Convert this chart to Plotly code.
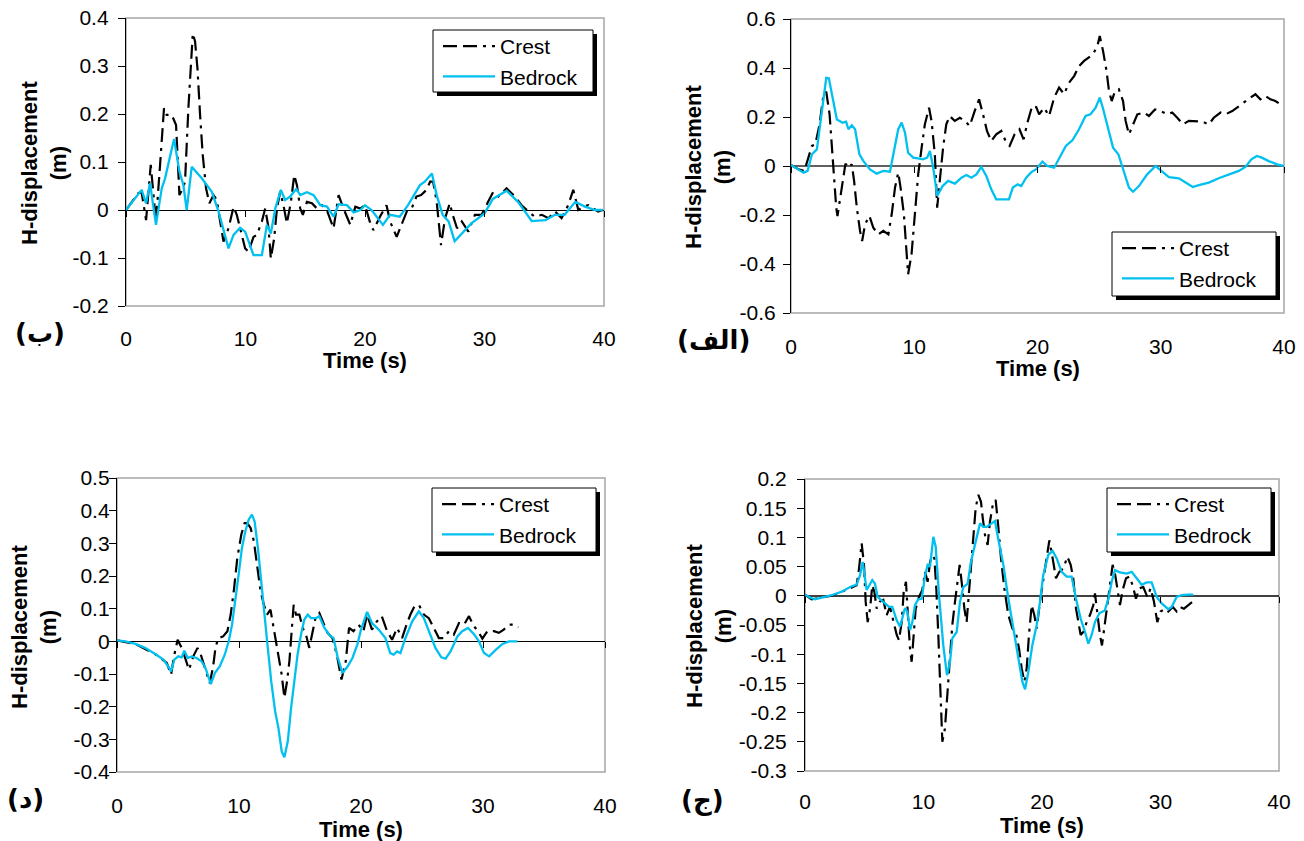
import plotly.graph_objects as go

# ---------------- data (time s, H-displacement m) ----------------
TIME_TICKS = [0, 10, 20, 30, 40]
TIME_LABELS = ["0", "10", "20", "30", "40"]
SERIES = ["Crest", "Bedrock"]
PANEL_TAGS = ["(ب)", "(الف)", "(د)", "(ج)"]

# panel (ب) top-left
p1_crest = [(0,0),(1.03,0.035),(1.3,0.038),(1.68,-0.021),(2.07,0.094),(2.51,-0.024),(2.85,0.094),(3.18,0.212),
            (3.4,0.198),(3.83,0.198),(4.19,0.177),(4.47,0.031),(4.75,0.045),(4.94,0.059),(5.22,0.212),(5.59,0.368),
            (5.78,0.351),(5.98,0.295),(6.2,0.198),(6.42,0.115),(6.7,0.045),(6.98,0.014),(7.32,0.031),(7.6,0.021),
            (7.88,-0.024),(8.16,-0.066),(8.58,-0.038),(9.0,0.007),(9.27,-0.010),(9.55,-0.038),(9.97,-0.080),
            (10.25,-0.087),(10.67,-0.056),(10.95,-0.052),(11.37,-0.024),(11.65,0.003),(11.93,-0.038),(12.12,-0.101),
            (12.4,-0.059),(12.63,0.003),(12.9,0.038),(13.18,0.010),(13.46,-0.028),(13.8,0.017),(14.08,0.073),
            (14.3,0.052),(14.58,0.003),(14.8,-0.010),(15.14,0.017),(15.56,0.014),(15.98,0.003),(16.4,0.010),
            (16.8,0),(17.37,-0.038),(17.79,0.031),(18.2,0.003),(18.77,-0.031),(19.19,0.007),(19.6,0.003),
            (20.0,0.010),(20.4,-0.024),(20.7,-0.042),(21.25,-0.014),(21.8,0.010),(22.1,-0.024),(22.65,-0.056),
            (23.07,-0.031),(23.5,-0.003),(23.9,0.003),(24.3,0.028),(24.7,0.031),(25.15,0.042),(25.45,0.059),
            (25.7,0.059),(26.0,0.017),(26.2,-0.038),(26.36,-0.073),(26.7,-0.017),(27.1,0.014),(27.3,-0.007),
            (27.7,-0.038),(28.1,-0.024),(28.65,-0.045),(29.2,-0.010),(29.76,-0.010),(30.3,0.017),(30.74,0.038),
            (31.16,0.028),(31.85,0.045),(32.55,0.028),(33.1,0.010),(33.67,-0.003),(34.2,-0.014),(34.8,-0.010),
            (35.35,-0.017),(35.9,-0.003),(36.45,-0.017),(37.0,0.010),(37.43,0.042),(37.85,0),(38.27,0.007),
            (38.7,0.010),(39.1,0.003),(39.5,-0.003),(39.9,0)]
p1_bedrock = [(0,0),(1.31,0.042),(1.68,0.014),(2.01,0.056),(2.51,-0.031),(2.99,0.045),(3.27,0.066),(4.02,0.148),
              (4.47,0.08),(4.80,0.052),(5.08,0.0),(5.50,0.09),(6.34,0.066),(7.18,0.038),(7.74,-0.003),(8.58,-0.08),
              (9.0,-0.052),(9.55,-0.037),(9.97,-0.045),(10.67,-0.094),(11.37,-0.094),(11.79,-0.031),(12.12,-0.049),
              (12.49,0.003),(12.96,0.042),(13.32,0.021),(13.74,0.028),(14.25,0.044),(14.58,0.031),(15.14,0.037),
              (15.70,0.031),(16.26,0.010),(16.82,0.007),(17.37,-0.014),(17.79,0.012),(18.49,0.010),(19.05,-0.005),
              (19.61,0.0),(20.0,0.010),(20.55,0),(21.5,-0.031),(22.1,-0.010),(22.9,-0.014),(23.6,0.010),
              (24.6,0.052),(25.0,0.059),(25.6,0.076),(26.0,0.031),(26.5,-0.010),(27.0,-0.024),(27.5,-0.065),
              (28.1,-0.049),(28.9,-0.028),(30.0,-0.007),(30.7,0.023),(31.85,0.040),(32.8,0.017),(33.95,-0.023),
              (35.1,-0.021),(35.9,-0.010),(36.7,-0.010),(37.6,0.017),(38.4,0.007),(39.25,0),(39.9,0)]
p1_yticks = [-0.2, -0.1, 0, 0.1, 0.2, 0.3, 0.4]
p1_ylabels = ["-0.2", "-0.1", "0", "0.1", "0.2", "0.3", "0.4"]

# panel (الف) top-right
p2_crest = [(0,0.004),(0.62,-0.014),(1.08,-0.02),(1.43,0.034),(1.7,0.082),(1.97,0.088),(2.32,0.17),(2.64,0.293),
            (2.86,0.303),(3.13,0.211),(3.32,0.075),(3.45,-0.034),(3.67,-0.17),(3.77,-0.204),(4.04,-0.116),
            (4.26,-0.048),(4.42,0.01),(4.66,-0.007),(4.93,0.007),(5.12,-0.061),(5.34,-0.17),(5.6,-0.265),
            (5.77,-0.306),(6.01,-0.238),(6.36,-0.204),(6.68,-0.252),(7.09,-0.279),(7.49,-0.265),(7.9,-0.279),
            (8.17,-0.197),(8.44,-0.088),(8.7,-0.027),(8.89,-0.088),(9.16,-0.197),(9.33,-0.306),(9.5,-0.442),
            (9.78,-0.36),(10.05,-0.197),(10.32,-0.034),(10.6,0.075),(10.86,0.17),(11.2,0.238),(11.4,0.184),
            (11.67,0.048),(11.86,-0.17),(12.07,-0.061),(12.34,0.075),(12.6,0.17),(12.88,0.204),(13.29,0.184),
            (13.7,0.197),(14.1,0.184),(14.5,0.163),(14.9,0.224),(15.26,0.272),(15.58,0.211),(15.9,0.143),
            (16.25,0.102),(16.65,0.129),(17.06,0.143),(17.47,0.095),(17.74,0.082),(18.14,0.129),(18.54,0.15),
            (18.87,0.109),(19.22,0.184),(19.57,0.245),(19.9,0.24),(20.13,0.211),(20.54,0.238),(20.94,0.204),
            (21.35,0.279),(21.75,0.32),(22.16,0.293),(22.56,0.34),(22.97,0.367),(23.37,0.408),(23.78,0.429),
            (24.13,0.442),(24.5,0.456),(24.86,0.49),(25.05,0.531),(25.32,0.469),(25.6,0.388),(25.8,0.306),
            (26.02,0.265),(26.29,0.306),(26.6,0.313),(26.94,0.265),(27.15,0.184),(27.42,0.129),(27.75,0.17),
            (28.1,0.211),(28.64,0.218),(29.04,0.204),(29.53,0.231),(30.0,0.224),(30.53,0.211),(30.93,0.218),
            (31.34,0.197),(31.8,0.17),(32.28,0.184),(32.82,0.184),(33.36,0.181),(33.9,0.17),(34.3,0.197),
            (34.85,0.218),(35.25,0.211),(35.8,0.224),(36.33,0.245),(36.87,0.265),(37.27,0.279),(37.68,0.293),
            (38.08,0.272),(38.49,0.286),(38.9,0.272),(39.3,0.265),(39.7,0.252),(40.0,0.25)]
p2_bedrock = [(0,0.004),(0.49,-0.01),(1.02,-0.027),(1.35,-0.02),(1.7,0.048),(2.1,0.068),(2.5,0.211),(2.86,0.36),
              (3.07,0.358),(3.4,0.265),(3.72,0.19),(4.2,0.177),(4.47,0.181),(4.66,0.15),(4.93,0.166),(5.2,0.15),
              (5.55,0.048),(5.88,0.02),(6.41,-0.014),(6.95,-0.031),(7.49,-0.02),(8.03,-0.023),(8.44,0.075),
              (8.7,0.15),(8.98,0.177),(9.25,0.136),(9.5,0.054),(9.92,0.034),(10.3,0.031),(10.7,0.027),
              (11.05,0.034),(11.27,0.061),(11.54,-0.007),(11.86,-0.122),(12.3,-0.082),(12.75,-0.061),
              (13.3,-0.072),(13.83,-0.048),(14.23,-0.037),(14.64,-0.048),(15.04,-0.034),(15.44,-0.004),
              (15.85,-0.041),(16.25,-0.095),(16.65,-0.136),(17.2,-0.136),(17.68,-0.136),(18.0,-0.088),
              (18.4,-0.075),(18.68,-0.082),(19.08,-0.048),(19.5,-0.025),(19.87,-0.014),(20.4,0.018),(20.8,0),
              (21.35,-0.007),(21.9,0.048),(22.3,0.082),(22.83,0.105),(23.37,0.15),(23.9,0.204),(24.3,0.211),
              (24.72,0.238),(25.05,0.279),(25.3,0.238),(25.67,0.17),(26.13,0.075),(26.56,0.048),(27.0,-0.027),
              (27.42,-0.088),(27.75,-0.105),(28.23,-0.082),(28.9,-0.034),(29.58,0),(30.0,-0.018),(30.66,-0.045),
              (31.47,-0.05),(32.0,-0.068),(32.6,-0.086),(33.09,-0.078),(33.9,-0.068),(34.7,-0.05),(35.52,-0.034),
              (36.33,-0.02),(36.87,-0.004),(37.35,0.027),(37.8,0.041),(38.2,0.034),(38.76,0.02),(39.43,0.007),
              (40.0,0)]
p2_yticks = [-0.6, -0.4, -0.2, 0, 0.2, 0.4, 0.6]
p2_ylabels = ["-0.6", "-0.4", "-0.2", "0", "0.2", "0.4", "0.6"]

# panel (د) bottom-left
p3_crest = [(0,0.003),(1.5,-0.008),(3.13,-0.039),(4.08,-0.066),(4.43,-0.102),(4.7,-0.041),(4.97,0.005),(5.3,-0.02),
            (5.63,-0.056),(5.9,-0.087),(6.25,-0.046),(6.6,-0.02),(6.87,-0.041),(7.2,-0.082),(7.6,-0.128),
            (7.88,-0.077),(8.07,-0.02),(8.3,0.01),(8.7,0.015),(9.05,0.031),(9.32,0.082),(9.6,0.163),(9.86,0.255),
            (10.19,0.327),(10.46,0.362),(10.68,0.362),(10.95,0.347),(11.22,0.306),(11.5,0.224),(11.77,0.153),
            (12.04,0.112),(12.3,0.082),(12.58,0.097),(12.85,0.041),(13.18,-0.031),(13.5,-0.102),(13.72,-0.173),
            (13.94,-0.122),(14.13,-0.061),(14.32,0.031),(14.48,0.112),(14.67,0.082),(14.95,0.082),(15.22,0.041),
            (15.49,0.02),(15.76,-0.02),(16.03,0.031),(16.3,0.077),(16.58,0.087),(16.85,0.061),(17.26,0.026),
            (17.66,0.01),(18.02,-0.041),(18.4,-0.117),(18.75,-0.061),(19.02,0.041),(19.38,0.031),(19.8,0.051),
            (20.2,0.031),(20.5,0.082),(20.9,0.036),(21.3,0.061),(21.7,0.077),(22.14,0.031),(22.55,0.005),
            (22.96,0.041),(23.37,0.01),(23.73,0.051),(24.05,0.082),(24.38,0.107),(24.74,0.112),(25.15,0.082),
            (25.56,0.071),(25.97,0.041),(26.38,0.01),(26.8,0.01),(27.2,0.031),(27.6,0.02),(28.03,0.056),
            (28.44,0.051),(28.85,0.077),(29.26,0.046),(29.6,0.031),(29.95,0.008),(30.36,0.031),(30.9,0.031),
            (31.3,0.026),(31.7,0.036),(32.14,0.051),(32.55,0.051),(32.9,0.043)]
p3_bedrock = [(0,0.003),(0.68,0),(1.5,-0.008),(2.3,-0.02),(3.13,-0.039),(3.8,-0.056),(4.2,-0.077),(4.43,-0.092),
              (4.7,-0.056),(5.03,-0.046),(5.3,-0.049),(5.52,-0.029),(5.8,-0.051),(6.11,-0.046),(6.52,-0.051),
              (6.93,-0.061),(7.26,-0.082),(7.47,-0.11),(7.69,-0.131),(8.02,-0.097),(8.42,-0.077),(8.83,-0.041),
              (9.16,0),(9.43,0.051),(9.7,0.122),(9.97,0.204),(10.24,0.286),(10.52,0.337),(10.79,0.372),
              (11.06,0.388),(11.28,0.367),(11.55,0.286),(11.82,0.184),(12.09,0.092),(12.36,-0.02),(12.64,-0.122),
              (12.96,-0.214),(13.23,-0.265),(13.5,-0.337),(13.72,-0.355),(14.0,-0.306),(14.27,-0.204),
              (14.54,-0.122),(14.8,-0.041),(15.08,0.02),(15.35,0.066),(15.63,0.082),(15.9,0.071),(16.3,0.071),
              (16.58,0.077),(17.0,0.041),(17.4,0.02),(17.75,0.01),(18.07,-0.046),(18.48,-0.097),(18.9,-0.077),
              (19.3,-0.051),(19.7,-0.01),(20.0,0.036),(20.5,0.09),(20.9,0.056),(21.45,0.036),(22.0,0.01),
              (22.4,-0.036),(22.68,-0.041),(22.96,-0.031),(23.23,-0.036),(23.64,0.01),(24.2,0.061),(24.74,0.092),
              (25.15,0.071),(25.56,0.031),(26.1,-0.02),(26.58,-0.049),(26.93,-0.053),(27.34,-0.031),(27.9,0.015),
              (28.3,0.031),(28.77,0.041),(29.26,0.022),(29.67,0),(30.08,-0.036),(30.5,-0.046),(31.04,-0.026),
              (31.6,-0.008),(32.14,0),(32.82,0)]
p3_yticks = [-0.4, -0.3, -0.2, -0.1, 0, 0.1, 0.2, 0.3, 0.4, 0.5]
p3_ylabels = ["-0.4", "-0.3", "-0.2", "-0.1", "0", "0.1", "0.2", "0.3", "0.4", "0.5"]

# panel (ج) bottom-right
p4_crest = [(0,0.002),(0.56,-0.006),(1.4,-0.003),(2.25,0),(3.1,0.007),(3.94,0.015),(4.36,0.018),(4.56,0.047),
            (4.78,0.09),(4.98,0.053),(5.12,-0.01),(5.29,-0.045),(5.49,-0.022),(5.68,0.018),(5.85,0.007),
            (6.05,-0.022),(6.33,-0.01),(6.61,-0.007),(6.89,-0.033),(7.17,-0.019),(7.45,-0.045),(7.74,-0.067),
            (7.93,-0.076),(8.16,-0.045),(8.33,0.007),(8.52,0.024),(8.72,-0.045),(8.86,-0.09),(9.0,-0.113),
            (9.14,-0.067),(9.34,-0.022),(9.62,-0.002),(9.9,0.01),(10.13,0.041),(10.35,0.024),(10.55,0.058),
            (10.75,0.07),(10.92,0.064),(11.08,0.013),(11.25,-0.067),(11.42,-0.165),(11.59,-0.25),(11.81,-0.227),
            (12.04,-0.159),(12.24,-0.102),(12.43,-0.05),(12.66,-0.01),(12.88,0.03),(13.05,0.053),(13.22,0.024),
            (13.45,-0.022),(13.64,-0.045),(13.78,-0.01),(14.0,0.035),(14.2,0.093),(14.4,0.15),(14.63,0.173),
            (14.85,0.161),(15.0,0.133),(15.19,0.104),(15.41,0.087),(15.61,0.127),(15.89,0.161),(16.09,0.164),
            (16.3,0.121),(16.54,0.064),(16.82,0.013),(17.16,-0.033),(17.5,-0.056),(17.78,-0.062),(18.06,-0.09),
            (18.28,-0.124),(18.51,-0.147),(18.71,-0.124),(18.9,-0.067),(19.13,-0.016),(19.35,-0.033),
            (19.55,-0.056),(19.83,-0.01),(20.25,0.047),(20.62,0.095),(20.9,0.064),(21.18,0.03),(21.46,0.041),
            (21.8,0.047),(22.14,0.067),(22.42,0.053),(22.64,0.03),(22.87,-0.022),(23.07,-0.045),(23.26,-0.067),
            (23.49,-0.062),(23.77,-0.045),(24.05,-0.033),(24.33,-0.016),(24.47,0.004),(24.67,-0.033),
            (24.89,-0.067),(25.06,-0.085),(25.3,-0.05),(25.54,-0.016),(25.74,0.018),(25.96,0.053),(26.16,0.038),
            (26.36,0.013),(26.58,-0.016),(26.81,0.01),(27.09,0.03),(27.37,0.033),(27.65,0.018),(27.93,-0.005),
            (28.21,0.013),(28.55,0.015),(28.89,-0.002),(29.17,0.013),(29.45,-0.01),(29.73,-0.045),(30.01,-0.027),
            (30.38,-0.022),(30.66,-0.027),(31.03,-0.019),(31.36,-0.027),(31.64,-0.019),(31.98,-0.022),
            (32.35,-0.016),(32.71,-0.01)]
p4_bedrock = [(0,0.002),(0.42,-0.003),(0.84,-0.006),(1.55,-0.003),(2.25,0.001),(3.1,0.007),(3.8,0.015),(4.36,0.019),
              (4.64,0.035),(4.87,0.058),(5.0,0.041),(5.2,0.01),(5.43,0.018),(5.68,0.027),(5.9,0.021),(6.13,-0.002),
              (6.41,-0.007),(6.75,-0.013),(7.09,-0.019),(7.37,-0.019),(7.74,-0.042),(8.02,-0.053),(8.21,-0.039),
              (8.44,-0.021),(8.64,-0.027),(8.86,-0.059),(9.06,-0.045),(9.28,-0.016),(9.56,-0.006),(9.85,-0.005),
              (10.13,0.035),(10.35,0.053),(10.55,0.05),(10.83,0.101),(11.03,0.084),(11.31,0.001),(11.67,-0.085),
              (11.98,-0.136),(12.24,-0.113),(12.43,-0.073),(12.8,-0.062),(13.08,-0.01),(13.36,0.015),(13.73,0.021),
              (14.0,0.058),(14.35,0.087),(14.77,0.124),(15.05,0.118),(15.33,0.118),(15.75,0.124),(16.03,0.128),
              (16.3,0.098),(16.74,0.053),(17.16,-0.005),(17.58,-0.056),(18.0,-0.113),(18.34,-0.147),(18.57,-0.16),
              (18.85,-0.13),(19.18,-0.085),(19.55,-0.05),(19.83,-0.01),(20.1,0.035),(20.53,0.07),(20.9,0.077),
              (21.24,0.064),(21.66,0.041),(22.08,0.033),(22.5,0.033),(22.87,-0.005),(23.26,-0.039),(23.63,-0.062),
              (23.91,-0.082),(24.19,-0.067),(24.47,-0.045),(24.84,-0.03),(25.3,-0.025),(25.6,-0.005),(25.88,0.024),
              (26.16,0.044),(26.58,0.04),(27.14,0.038),(27.57,0.041),(27.99,0.03),(28.41,0.019),(28.83,0.023),
              (29.25,0.023),(29.68,-0.002),(30.1,-0.013),(30.66,-0.023),(30.94,-0.019),(31.36,-0.002),
              (31.79,0.001),(32.35,0.002),(32.77,0.002)]
p4_yticks = [-0.3, -0.25, -0.2, -0.15, -0.1, -0.05, 0, 0.05, 0.1, 0.15, 0.2]
p4_ylabels = ["-0.3", "-0.25", "-0.2", "-0.15", "-0.1", "-0.05", "0", "0.05", "0.1", "0.15", "0.2"]

# ---------------- layout geometry (pixels) ----------------
W, H = 1304, 841
def fx(p): return p / W
def fy(p): return 1 - p / H

FONT = "Liberation Sans, Arial, sans-serif"
CREST_LINE = dict(color="black", width=2.2, dash="14px,6px,14px,6px,3px,6px")
BED_LINE = dict(color="#00C0F0", width=2.3)

specs = [
    dict(crest=p1_crest, bed=p1_bedrock, yt=p1_yticks, yl=p1_ylabels, box=(126, 18, 604, 306),
         leg=(433, 30, 593, 92), ytitle=(44, 163), xtitle_y=360, xgap=18, ygap=5, tag=(40, 333),
         zc="black", zw=1.3),
    dict(crest=p2_crest, bed=p2_bedrock, yt=p2_yticks, yl=p2_ylabels, box=(791, 19, 1284, 313),
         leg=(1112, 232, 1276, 296), ytitle=(708, 167), xtitle_y=368, xgap=19, ygap=3, tag=(713, 340),
         zc="#606060", zw=2),
    dict(crest=p3_crest, bed=p3_bedrock, yt=p3_yticks, yl=p3_ylabels, box=(117, 478, 605, 772),
         leg=(432, 488, 596, 552), ytitle=(34, 627), xtitle_y=829, xgap=19, ygap=-5, tag=(25, 799),
         zc="black", zw=1.3),
    dict(crest=p4_crest, bed=p4_bedrock, yt=p4_yticks, yl=p4_ylabels, box=(805, 479, 1279, 771),
         leg=(1107, 488, 1271, 552), ytitle=(709, 626), xtitle_y=825, xgap=16, ygap=6, tag=(702, 800),
         zc="#404040", zw=1.5),
]

fig = go.Figure()
layout = dict(width=W, height=H, margin=dict(l=0, r=0, t=0, b=0, autoexpand=False), paper_bgcolor="white",
              plot_bgcolor="white", showlegend=True, shapes=[], annotations=[])

for i, s in enumerate(specs):
    k = i + 1
    xa = "x" if k == 1 else f"x{k}"
    ya = "y" if k == 1 else f"y{k}"
    xo = f"x{k + 4}"
    legname = "legend" if k == 1 else f"legend{k}"
    x0, y0, x1, y1 = s["box"]
    ymin, ymax = s["yt"][0], s["yt"][-1]

    fig.add_trace(go.Scatter(x=[p[0] for p in s["crest"]], y=[p[1] for p in s["crest"]], mode="lines",
                             name=SERIES[0], line=CREST_LINE, xaxis=xa, yaxis=ya, legend=legname))
    fig.add_trace(go.Scatter(x=[p[0] for p in s["bed"]], y=[p[1] for p in s["bed"]], mode="lines",
                             name=SERIES[1], line=BED_LINE, xaxis=xa, yaxis=ya, legend=legname))
    fig.add_trace(go.Scatter(x=[None], y=[None], xaxis=xo, yaxis=ya, showlegend=False, hoverinfo="skip"))

    ydom = [fy(y1), fy(y0)]
    layout["xaxis" if k == 1 else f"xaxis{k}"] = dict(
        domain=[fx(x0), fx(x1)], range=[0, 40], anchor=ya, tickvals=TIME_TICKS, ticktext=TIME_LABELS,
        ticks="", showline=False, showgrid=False, zeroline=False, ticklabelstandoff=s["xgap"],
        automargin=False, tickfont=dict(family=FONT, size=21, color="black"))
    zero_pos = ydom[0] + (0 - ymin) / (ymax - ymin) * (ydom[1] - ydom[0])
    layout[f"xaxis{k + 4}"] = dict(
        overlaying=xa, anchor="free", position=zero_pos, side="bottom", range=[0, 40],
        tickvals=TIME_TICKS, ticks="outside", ticklen=6, tickwidth=1.2, tickcolor="black",
        showticklabels=False, showline=False, showgrid=False, zeroline=False, automargin=False)
    layout["yaxis" if k == 1 else f"yaxis{k}"] = dict(
        domain=ydom, range=[ymin, ymax], anchor=xa, tickvals=s["yt"], ticktext=s["yl"],
        ticks="outside", ticklen=7, tickwidth=1.3, tickcolor="black", showline=True, linecolor="black",
        linewidth=1.3, showgrid=False, zeroline=True, zerolinecolor=s["zc"], zerolinewidth=s["zw"],
        ticklabelstandoff=s["ygap"], automargin=False, tickfont=dict(family=FONT, size=21, color="black"))

    # plot-area border
    layout["shapes"].append(dict(type="rect", xref=f"{xa} domain", yref=f"{ya} domain", x0=0, x1=1, y0=0, y1=1,
                                 line=dict(color="#A6A6A6", width=1.5), layer="below"))
    # legend frame with shadow
    L, T, R, B = s["leg"]
    layout["shapes"].append(dict(type="rect", xref="paper", yref="paper", x0=fx(L + 4), x1=fx(R + 4),
                                 y0=fy(B + 4), y1=fy(T + 4), fillcolor="black", line=dict(width=0),
                                 layer="above"))
    layout["shapes"].append(dict(type="rect", xref="paper", yref="paper", x0=fx(L), x1=fx(R),
                                 y0=fy(B), y1=fy(T), fillcolor="white", line=dict(color="black", width=1),
                                 layer="above"))
    layout[legname] = dict(x=fx(L + 5), y=fy(T - 4), xanchor="left", yanchor="top",
                           bgcolor="rgba(0,0,0,0)", borderwidth=0, itemwidth=52,
                           font=dict(family=FONT, size=21, color="black"))

    # axis titles and panel tag
    cx, cy = s["ytitle"]
    layout["annotations"].append(dict(text="<b>H-displacement<br>(m)</b>", x=fx(cx), y=fy(cy), xref="paper",
                                      yref="paper", textangle=-90, showarrow=False, xanchor="center",
                                      yanchor="middle", font=dict(family=FONT, size=22, color="black")))
    layout["annotations"].append(dict(text="<b>Time (s)</b>", x=fx((x0 + x1) / 2), y=fy(s["xtitle_y"]),
                                      xref="paper", yref="paper", showarrow=False, xanchor="center",
                                      yanchor="middle", font=dict(family=FONT, size=22, color="black")))
    tx, ty = s["tag"]
    layout["annotations"].append(dict(text="<b>" + PANEL_TAGS[i] + "</b>", x=fx(tx), y=fy(ty), xref="paper",
                                      yref="paper", showarrow=False, xanchor="center", yanchor="middle",
                                      font=dict(family="DejaVu Sans", size=26, color="black")))

fig.update_layout(**layout)
# remove the browser's default 8px page margin so the 1304x841 figure fills the window exactly
fig.write_html("out.html", config={"displayModeBar": False},
               post_script="document.body.style.margin='0px';")
